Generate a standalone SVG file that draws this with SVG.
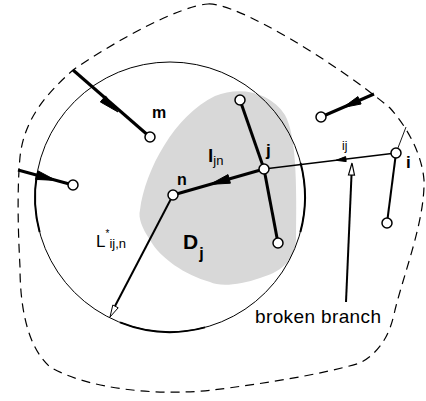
<svg xmlns="http://www.w3.org/2000/svg" width="426" height="401" viewBox="0 0 426 401">
<style>
.nd{fill:#fff;stroke:#000;stroke-width:1.5}
.e3{stroke:#000;stroke-width:3;fill:none}
.e2{stroke:#000;stroke-width:2;fill:none}
.e1{stroke:#000;stroke-width:1.5;fill:none}
.ah{fill:#000;stroke:#000;stroke-width:1}
.lb{font-family:"Liberation Sans",Arial,sans-serif;fill:#000}
.b{font-weight:bold}
</style>
<rect width="426" height="401" fill="#fff"/>
<g id="boundary">
<path d="M 208,4 C 236,2 335,62 390,108 C 408,128 422,155 424,180 C 425,220 405,270 395,310 C 390,335 380,352 360,363 C 320,375 260,384 213,390 C 160,396 90,390 50,367 C 25,345 20,300 20,267 C 18,230 17,190 20,157 C 24,120 45,95 73,70 C 120,38 180,6 208,4 Z" fill="none" stroke="#000" stroke-width="1.2" stroke-dasharray="9 6"/>
<line x1="396" y1="153" x2="406" y2="127" stroke="#000" stroke-width="0.9"/>
</g>
<g id="domain-Dj">
<path d="M 140,210 C 145,170 175,115 215,96 C 240,86 270,92 285,115 C 296,135 297,180 296,240 C 294,262 280,272 260,278 C 240,285 220,287 210,282 C 185,275 160,258 150,240 C 142,228 138,218 140,210 Z" fill="#d8d8d8"/>
</g>
<g id="radius-circle">
<circle cx="170" cy="197" r="135" fill="none" stroke="#000" stroke-width="1"/>
<path d="M 36.8,175 A 135 135 0 0 0 39.6,232" class="e2" stroke-width="2.6"/>
<path d="M 120,322.4 A 135 135 0 0 0 205,327.4" class="e2" stroke-width="2.6"/>
<path d="M 300.6,163 A 135 135 0 0 1 300.4,232" class="e2" stroke-width="2.6"/>
</g>
<g id="connectors">
<line x1="73" y1="70" x2="150" y2="137" class="e3"/>
<polygon points="118,112 100.3,101.9 105.5,95.9" class="ah"/>
<line x1="18" y1="170" x2="73" y2="185" class="e3"/>
<polygon points="56,180.4 35.5,179.4 37.9,170.8" class="ah"/>
<line x1="374" y1="94" x2="321" y2="117" class="e3"/>
<polygon points="343,107.5 357.9,96.6 361.1,104" class="ah"/>
<line x1="264" y1="169" x2="173" y2="195" class="e3"/>
<polygon points="210,184.4 228,174.6 230.4,183.2" class="ah"/>
<line x1="264" y1="169" x2="240" y2="100" class="e3"/>
<line x1="264" y1="169" x2="278" y2="243" class="e3"/>
<line x1="396" y1="153" x2="264" y2="169" class="e1"/>
<polygon points="336,160.3 345.6,156.6 346.2,161.6" class="ah"/>
<line x1="396" y1="153" x2="387" y2="223" class="e2"/>
<line x1="346" y1="302" x2="351.5" y2="175" class="e2"/>
<polygon points="352,163 354.5,175.1 348.5,174.9" fill="#fff" stroke="#000" stroke-width="1.2"/>
<line x1="173" y1="195" x2="114" y2="308" class="e2"/>
<polygon points="110,317 112.8,305 118.2,307.8" fill="#fff" stroke="#000" stroke-width="1"/>
</g>
<g id="node-m"><circle cx="150" cy="137" r="5" class="nd"/><text x="152" y="118" class="lb b" font-size="16">m</text></g>
<g id="node-left"><circle cx="73" cy="185" r="5" class="nd"/></g>
<g id="node-n"><circle cx="173" cy="195" r="5" class="nd"/><text x="177" y="185" class="lb b" font-size="16">n</text></g>
<g id="node-j"><circle cx="264" cy="169" r="5" class="nd"/><text x="266" y="156" class="lb b" font-size="17">j</text></g>
<g id="node-jtop"><circle cx="240" cy="100" r="5" class="nd"/></g>
<g id="node-jbottom"><circle cx="278" cy="243" r="5" class="nd"/></g>
<g id="node-topright"><circle cx="321" cy="117" r="5" class="nd"/></g>
<g id="node-i"><circle cx="396" cy="153" r="5" class="nd"/><text x="406" y="168" class="lb b" font-size="17">i</text></g>
<g id="node-ibottom"><circle cx="387" cy="223" r="5" class="nd"/></g>
<g id="labels">
<text x="208" y="162" class="lb" font-size="19"><tspan font-weight="bold">l</tspan><tspan font-size="13" dy="3">jn</tspan></text>
<text x="342" y="150" class="lb" font-size="12">ij</text>
<text x="96" y="247" class="lb" font-size="17">L<tspan font-size="10" dy="-10">*</tspan><tspan font-size="13" dy="11">ij,n</tspan></text>
<text x="183" y="249" class="lb b" font-size="21">D<tspan font-size="16" dx="1" dy="10">j</tspan></text>
<text x="255" y="323" class="lb" font-size="19" textLength="126">broken branch</text>
</g>
</svg>
